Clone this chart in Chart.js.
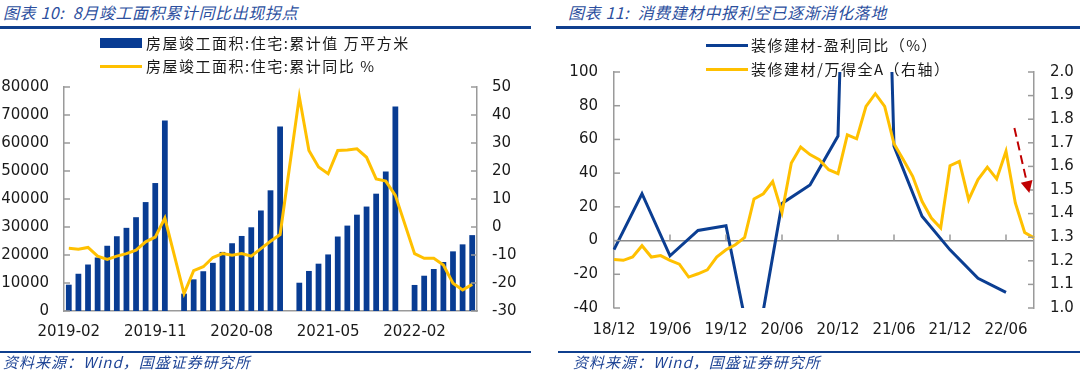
<!DOCTYPE html>
<html>
<head>
<meta charset="utf-8">
<script src="https://cdn.jsdelivr.net/npm/chart.js@4.4.0/dist/chart.umd.min.js"></script>
<style>
  body { margin: 0; background: #fff; }
  #page { position: relative; width: 1080px; height: 373px; overflow: hidden; font-family: "Noto Sans CJK SC", sans-serif; }
  .box { position: absolute; top: 0; width: 540px; height: 373px; }
  .title { position: absolute; top: 2px; font-size: 16px; line-height: 20px; letter-spacing: 0.6px; font-style: italic; color: #2c4f9e; white-space: nowrap; }
  .rule { position: absolute; background: #0f3f8e; }
  .src { position: absolute; top: 353px; font-size: 15px; line-height: 18px; letter-spacing: 1px; font-style: italic; color: #1f4596; white-space: nowrap; }
  .lg { position: absolute; font-size: 15px; line-height: 18px; letter-spacing: 1.5px; color: #1a1a1a; white-space: nowrap; }
  .sw { position: absolute; }
</style>
</head>
<body>
<div id="page">
  <div class="title" style="left:3px">图表 10:&nbsp; 8月竣工面积累计同比出现拐点</div>
  <div class="rule" style="left:0;top:26px;width:531px;height:3px"></div>
  <div class="title" style="left:568px">图表 11:&nbsp; 消费建材中报利空已逐渐消化落地</div>
  <div class="rule" style="left:556px;top:26px;width:524px;height:3px"></div>

  <div class="box" style="left:0"><canvas id="c1" width="540" height="373"></canvas></div>
  <div class="box" style="left:540px"><canvas id="c2" width="540" height="373"></canvas></div>

  <div class="sw" style="left:100px;top:38px;width:42px;height:10px;background:#083c93"></div>
  <div class="lg" style="left:146px;top:34px">房屋竣工面积:住宅:累计值 万平方米</div>
  <div class="sw" style="left:100px;top:65px;width:42px;height:3px;background:#ffc000"></div>
  <div class="lg" style="left:146px;top:57px">房屋竣工面积:住宅:累计同比 %</div>

  <div class="sw" style="left:706px;top:44px;width:42px;height:3px;background:#0b3e92"></div>
  <div class="lg" style="left:751px;top:36px">装修建材-盈利同比（%）</div>
  <div class="sw" style="left:706px;top:68px;width:42px;height:3px;background:#ffc000"></div>
  <div class="lg" style="left:751px;top:60px">装修建材/万得全A（右轴）</div>

  <div class="rule" style="left:0;top:351px;width:531px;height:2px"></div>
  <div class="src" style="left:3px">资料来源：Wind，国盛证券研究所</div>
  <div class="rule" style="left:558px;top:351px;width:522px;height:2px"></div>
  <div class="src" style="left:573px">资料来源：Wind，国盛证券研究所</div>
</div>
<script>
// chart 10: monthly, January has no release
const months1 = [
  '2019-02','2019-03','2019-04','2019-05','2019-06','2019-07','2019-08','2019-09','2019-10','2019-11','2019-12',
  '2020-01','2020-02','2020-03','2020-04','2020-05','2020-06','2020-07','2020-08','2020-09','2020-10','2020-11','2020-12',
  '2021-01','2021-02','2021-03','2021-04','2021-05','2021-06','2021-07','2021-08','2021-09','2021-10','2021-11','2021-12',
  '2022-01','2022-02','2022-03','2022-04','2022-05','2022-06','2022-07','2022-08'
];
const areaCum = [
  9400, 13300, 16600, 19100, 23300, 26700, 29700, 33500, 38900, 45700, 68000,
  null, 6200, 11300, 14200, 17200, 21100, 24200, 26800, 29900, 35900, 43100, 65900,
  null, 10100, 14300, 16900, 20200, 26600, 30500, 34400, 37300, 41900, 49800, 73000,
  null, 9300, 12600, 15000, 17500, 21300, 23800, 27100
];
const areaYoy = [
  -7.6, -7.9, -7.3, -10.4, -11.6, -10.4, -9.5, -8.3, -5.3, -3.6, 3.2,
  null, -23.8, -15.6, -14.2, -10.9, -9.5, -10.1, -9.5, -10.4, -7.7, -5.1, -2.7,
  null, 46.5, 27.3, 21.4, 19.0, 27.3, 27.5, 27.9, 24.9, 17.2, 16.4, 11.3,
  null, -9.5, -11.2, -11.2, -13.6, -20.1, -22.5, -20.5
];

// chart 11: monthly ratio, quarterly profit growth
const months2 = [
  '18/12','19/01','19/02','19/03','19/04','19/05','19/06','19/07','19/08','19/09','19/10','19/11',
  '19/12','20/01','20/02','20/03','20/04','20/05','20/06','20/07','20/08','20/09','20/10','20/11',
  '20/12','21/01','21/02','21/03','21/04','21/05','21/06','21/07','21/08','21/09','21/10','21/11',
  '21/12','22/01','22/02','22/03','22/04','22/05','22/06','22/07','22/08','22/09'
];
const profitYoy = [
  -5.4, null, null, 27.8, null, null, -9.0, null, null, 6.0, null, null,
  8.8, null, null, -73, null, null, 22, null, null, 33, null, null,
  62, null, null, 650, null, null, 56, null, null, 14.4, null, null,
  -5.5, null, null, -22.4, null, null, -30.7, null, null, null
];
const relWind = [
  1.205, 1.202, 1.216, 1.264, 1.216, 1.222, 1.202, 1.186, 1.131, 1.145, 1.162, 1.216,
  1.247, 1.268, 1.299, 1.462, 1.484, 1.536, 1.405, 1.614, 1.682, 1.650, 1.628, 1.586,
  1.569, 1.734, 1.717, 1.854, 1.908, 1.854, 1.696, 1.628, 1.558, 1.452, 1.381, 1.339,
  1.603, 1.621, 1.459, 1.544, 1.597, 1.547, 1.664, 1.445, 1.320, 1.297
];

const blue = '#083c93';
const gold = '#ffc000';
const axisGray = '#9a9a9a';
const tickFont = { family: 'DejaVu Sans', size: 15 };
const tickColor = '#1a1a1a';

// excel style tick marks pointing into the plot
const inTicks = {
  id: 'inTicks',
  afterDatasetsDraw(chart, args, opts) {
    const c = chart.ctx;
    c.save();
    c.strokeStyle = axisGray;
    c.lineWidth = 1.5;
    ['y', 'y1'].forEach(id => {
      const s = chart.scales[id];
      const left = s.position === 'left';
      const x0 = left ? s.right : s.left;
      s.ticks.forEach(t => {
        const y = s.getPixelForValue(t.value);
        c.beginPath();
        c.moveTo(x0, y);
        c.lineTo(x0 + (left ? 6 : -6), y);
        c.stroke();
      });
    });
    if (opts.xEvery) {
      const sx = chart.scales.x;
      const y0 = chart.scales.y.getPixelForValue(0);
      for (let i = opts.xEvery; i < chart.data.labels.length; i += opts.xEvery) {
        const x = sx.getPixelForValue(i);
        c.beginPath();
        c.moveTo(x, y0);
        c.lineTo(x, y0 - 6);
        c.stroke();
      }
    }
    c.restore();
  }
};

// dashed red arrow near the end of chart 11
const arrowFrom = [42.9, 1.763];
const arrowTo = [44.5, 1.487];
const arrow = {
  id: 'arrow',
  afterDatasetsDraw(chart) {
    const sx = chart.scales.x, sy = chart.scales.y1;
    const x1 = sx.getPixelForValue(arrowFrom[0]), y1 = sy.getPixelForValue(arrowFrom[1]);
    const x2 = sx.getPixelForValue(arrowTo[0]), y2 = sy.getPixelForValue(arrowTo[1]);
    const a = Math.atan2(y2 - y1, x2 - x1);
    const head = 12;
    const c = chart.ctx;
    c.save();
    c.strokeStyle = '#c00000';
    c.fillStyle = '#c00000';
    c.lineWidth = 2;
    c.setLineDash([9, 5]);
    c.beginPath();
    c.moveTo(x1, y1);
    c.lineTo(x2 - head * Math.cos(a), y2 - head * Math.sin(a));
    c.stroke();
    c.setLineDash([]);
    c.beginPath();
    c.moveTo(x2, y2);
    c.lineTo(x2 - head * Math.cos(a) + 6 * Math.sin(a), y2 - head * Math.sin(a) - 6 * Math.cos(a));
    c.lineTo(x2 - head * Math.cos(a) - 6 * Math.sin(a), y2 - head * Math.sin(a) + 6 * Math.cos(a));
    c.closePath();
    c.fill();
    c.restore();
  }
};

new Chart(document.getElementById('c1'), {
  type: 'bar',
  data: {
    labels: months1,
    datasets: [
      {
        type: 'line',
        label: '房屋竣工面积:住宅:累计同比 %',
        data: areaYoy,
        yAxisID: 'y1',
        borderColor: gold,
        borderWidth: 3,
        pointRadius: 0,
        spanGaps: true,
        tension: 0,
        order: 0
      },
      {
        label: '房屋竣工面积:住宅:累计值 万平方米',
        data: areaCum,
        yAxisID: 'y',
        backgroundColor: blue,
        barPercentage: 0.6,
        categoryPercentage: 1,
        order: 1
      }
    ]
  },
  options: {
    responsive: false,
    animation: false,
    layout: { padding: { top: 87, left: 0, right: 0, bottom: 0 } },
    plugins: { legend: { display: false }, tooltip: { enabled: false } },
    scales: {
      x: {
        grid: { display: false, drawTicks: false },
        border: { color: axisGray, width: 1.5 },
        ticks: {
          autoSkip: false, maxRotation: 0, padding: 12, font: tickFont, color: tickColor,
          callback: (v, i) => (i % 9 === 0 ? months1[i] : '')
        },
        afterFit: s => { s.height = 62; }
      },
      y: {
        position: 'left',
        min: 0,
        max: 80000,
        grid: { display: false, drawTicks: false },
        border: { color: axisGray, width: 1.5 },
        ticks: { stepSize: 10000, padding: 15, font: tickFont, color: tickColor, callback: v => String(v) },
        afterFit: s => { s.width = 64; }
      },
      y1: {
        position: 'right',
        min: -30,
        max: 50,
        grid: { display: false, drawTicks: false },
        border: { color: axisGray, width: 1.5 },
        ticks: { stepSize: 10, padding: 15, font: tickFont, color: tickColor },
        afterFit: s => { s.width = 63; }
      }
    }
  },
  plugins: [inTicks]
});

new Chart(document.getElementById('c2'), {
  type: 'line',
  data: {
    labels: months2,
    datasets: [
      {
        label: '装修建材/万得全A（右轴）',
        data: relWind,
        yAxisID: 'y1',
        borderColor: gold,
        borderWidth: 3,
        pointRadius: 0,
        tension: 0,
        order: 0
      },
      {
        label: '装修建材-盈利同比（%）',
        data: profitYoy,
        yAxisID: 'y',
        borderColor: '#0b3e92',
        borderWidth: 3,
        pointRadius: 0,
        spanGaps: true,
        tension: 0,
        order: 1
      }
    ]
  },
  options: {
    responsive: false,
    animation: false,
    layout: { padding: { top: 72, left: 0, right: 0, bottom: 0 } },
    plugins: { legend: { display: false }, tooltip: { enabled: false }, inTicks: { xEvery: 6 } },
    scales: {
      x: {
        grid: { display: false, drawTicks: false },
        border: { display: false },
        ticks: {
          autoSkip: false, maxRotation: 0, padding: 13, font: tickFont, color: tickColor,
          callback: (v, i) => (i % 6 === 0 ? months2[i] : '')
        },
        afterFit: s => { s.height = 65; }
      },
      y: {
        position: 'left',
        min: -40,
        max: 100,
        grid: {
          drawTicks: false,
          lineWidth: 1.5,
          color: c => (c.tick && c.tick.value === 0 ? '#8a8a8a' : 'rgba(0,0,0,0)')
        },
        border: { color: axisGray, width: 1.5 },
        ticks: { stepSize: 20, padding: 16, font: tickFont, color: tickColor },
        afterFit: s => { s.width = 74; }
      },
      y1: {
        position: 'right',
        min: 1.0,
        max: 2.0,
        grid: { display: false, drawTicks: false },
        border: { color: axisGray, width: 1.5 },
        ticks: { stepSize: 0.1, padding: 16, font: tickFont, color: tickColor, callback: v => v.toFixed(1) },
        afterFit: s => { s.width = 46; }
      }
    }
  },
  plugins: [inTicks, arrow]
});
</script>
</body>
</html>
